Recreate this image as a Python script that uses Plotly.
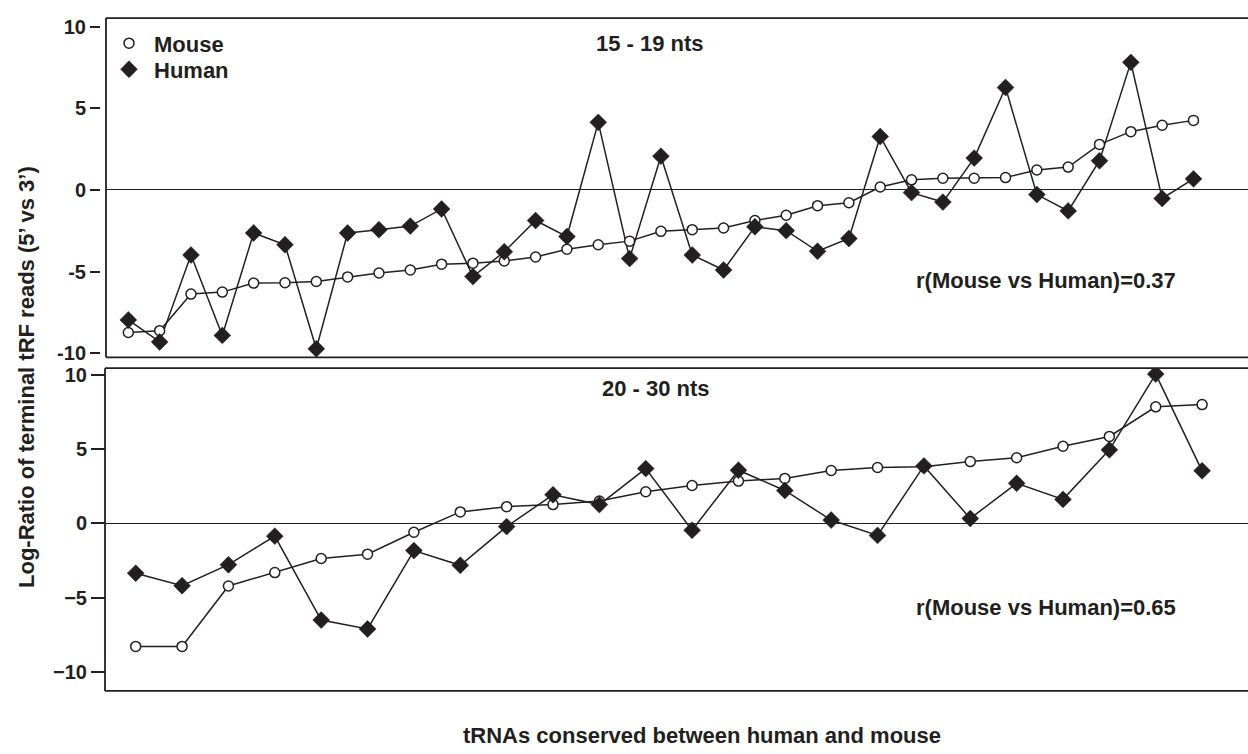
import plotly.graph_objects as go

W, H = 1248, 754

# ---------------- data ----------------
idx_short = list(range(1, 36))
mouse_short = [-8.72, -8.61, -6.37, -6.25, -5.70, -5.68, -5.60, -5.32, -5.08, -4.90,
               -4.54, -4.48, -4.34, -4.10, -3.63, -3.35, -3.13, -2.53, -2.43, -2.33,
               -1.87, -1.55, -0.96, -0.78, 0.18, 0.62, 0.72, 0.72, 0.76, 1.22,
               1.40, 2.79, 3.57, 3.96, 4.26]
human_short = [-7.95, -9.30, -3.98, -8.90, -2.63, -3.35, -9.72, -2.63, -2.43, -2.21,
               -1.16, -5.30, -3.78, -1.87, -2.85, 4.14, -4.20, 2.07, -3.98, -4.90,
               -2.25, -2.49, -3.75, -2.97, 3.27, -0.16, -0.74, 1.95, 6.27, -0.28,
               -1.28, 1.79, 7.81, -0.52, 0.68]

idx_long = list(range(1, 25))
mouse_long = [-8.27, -8.27, -4.21, -3.31, -2.36, -2.07, -0.60, 0.77, 1.12, 1.26,
              1.50, 2.12, 2.54, 2.84, 3.02, 3.55, 3.75, 3.80, 4.15, 4.41,
              5.18, 5.84, 7.83, 7.98]
human_long = [-3.35, -4.19, -2.78, -0.86, -6.50, -7.10, -1.83, -2.82, -0.22, 1.92,
              1.26, 3.68, -0.46, 3.57, 2.21, 0.22, -0.81, 3.86, 0.33, 2.69,
              1.61, 4.94, 10.03, 3.53]

tick_vals = [-10, -5, 0, 5, 10]
tick_text_top = ["-10", "-5", "0", "5", "10"]
tick_text_bottom = ["\u221210", "\u22125", "0", "5", "10"]

panel_titles = ["15 - 19 nts", "20 - 30 nts"]
r_texts = ["r(Mouse vs Human)=0.37", "r(Mouse vs Human)=0.65"]
y_title = "Log-Ratio of terminal tRF reads (5\u2019 vs 3\u2019)"
x_title = "tRNAs conserved between human and mouse"

# ---------------- helpers ----------------
def px(x):
    return x / W

def py(y):
    return 1 - y / H

INK = "#231f20"
FONT = "Liberation Sans, Arial, sans-serif"

fig = go.Figure()

def add_series(xs, ys, xa, ya, legend):
    fig.add_trace(go.Scatter(x=xs, y=ys[0], xaxis=xa, yaxis=ya, mode="lines",
                             line=dict(color=INK, width=1.5), showlegend=False,
                             hoverinfo="skip"))
    fig.add_trace(go.Scatter(x=xs, y=ys[1], xaxis=xa, yaxis=ya, mode="lines",
                             line=dict(color=INK, width=1.5), showlegend=False,
                             hoverinfo="skip"))
    fig.add_trace(go.Scatter(x=xs, y=ys[0], xaxis=xa, yaxis=ya, mode="markers",
                             name="Mouse", legend="legend", showlegend=legend,
                             marker=dict(symbol="circle", size=10, color="white",
                                         line=dict(color=INK, width=1.5))))
    fig.add_trace(go.Scatter(x=xs, y=ys[1], xaxis=xa, yaxis=ya, mode="markers",
                             name="Human", legend="legend2", showlegend=legend,
                             marker=dict(symbol="diamond", size=13, color=INK,
                                         line=dict(color=INK, width=0.5))))

add_series(idx_short, (mouse_short, human_short), "x", "y", True)
add_series(idx_long, (mouse_long, human_long), "x2", "y2", False)

tickfont = dict(family=FONT, size=20, color=INK, weight="bold")
lfont = dict(family=FONT, size=22, color=INK, weight="bold")

fig.update_layout(
    width=W, height=H, autosize=False,
    margin=dict(l=0, r=0, t=0, b=0),
    paper_bgcolor="white", plot_bgcolor="white",
    showlegend=True,
    legend=dict(x=px(104), y=py(39), xanchor="left", yanchor="middle",
                bgcolor="rgba(0,0,0,0)", borderwidth=0, font=lfont,
                itemwidth=40),
    legend2=dict(x=px(104), y=py(65.5), xanchor="left", yanchor="middle",
                 bgcolor="rgba(0,0,0,0)", borderwidth=0, font=lfont,
                 itemwidth=40),
    xaxis=dict(domain=[px(106), 1.0], range=[0.287, 36.74], visible=False,
               anchor="y"),
    yaxis=dict(domain=[py(358), py(13.3)], range=[-10.24, 10.52],
               anchor="free", position=px(100),
               tickvals=tick_vals, ticktext=tick_text_top,
               ticks="outside", ticklen=10, tickwidth=1.5, tickcolor=INK,
               showgrid=False, showline=False,
               zeroline=True, zerolinecolor=INK, zerolinewidth=1.2,
               tickfont=tickfont),
    xaxis2=dict(domain=[px(106), 1.0], range=[0.359, 24.99], visible=False,
                anchor="y2"),
    yaxis2=dict(domain=[py(697), py(369)], range=[-11.26, 10.43],
                anchor="free", position=px(105),
                tickvals=tick_vals, ticktext=tick_text_bottom,
                ticks="outside", ticklen=14, tickwidth=1.5, tickcolor=INK,
                showgrid=False, showline=False,
                zeroline=True, zerolinecolor=INK, zerolinewidth=1.2,
                tickfont=tickfont),
)

# frames (top, bottom, left edges of each panel)
shapes = []
for top, bottom, left in [(13.3, 358, 106), (369, 697, 105)]:
    for x0, y0, x1, y1 in [(left, top, W + 5, top), (left, bottom, W + 5, bottom),
                           (left, top, left, bottom)]:
        shapes.append(dict(type="line", xref="paper", yref="paper",
                           x0=px(x0), y0=py(y0), x1=px(x1), y1=py(y1),
                           line=dict(color=INK, width=1.8)))
fig.update_layout(shapes=shapes)

annotations = [
    dict(text=panel_titles[0], x=px(650), y=py(39), xref="paper", yref="paper",
         showarrow=False, font=lfont, xanchor="center", yanchor="middle"),
    dict(text=panel_titles[1], x=px(656), y=py(390), xref="paper", yref="paper",
         showarrow=False, font=lfont, xanchor="center", yanchor="middle"),
    dict(text=r_texts[0], x=px(1046), y=py(280), xref="paper", yref="paper",
         showarrow=False, font=lfont, xanchor="center", yanchor="middle"),
    dict(text=r_texts[1], x=px(1046), y=py(612), xref="paper", yref="paper",
         showarrow=False, font=lfont, xanchor="center", yanchor="middle"),
    dict(text=y_title, x=px(27), y=py(378), xref="paper", yref="paper",
         showarrow=False, font=lfont, textangle=-90,
         xanchor="center", yanchor="middle"),
    dict(text=x_title, x=px(461), y=py(742), xref="paper", yref="paper",
         showarrow=False, font=lfont, xanchor="left", yanchor="middle"),
]
fig.update_layout(annotations=annotations)

fig.write_html(
    "out.html",
    config={"displayModeBar": False},
    post_script="document.body.style.margin='0';document.body.style.overflow='hidden';",
)
